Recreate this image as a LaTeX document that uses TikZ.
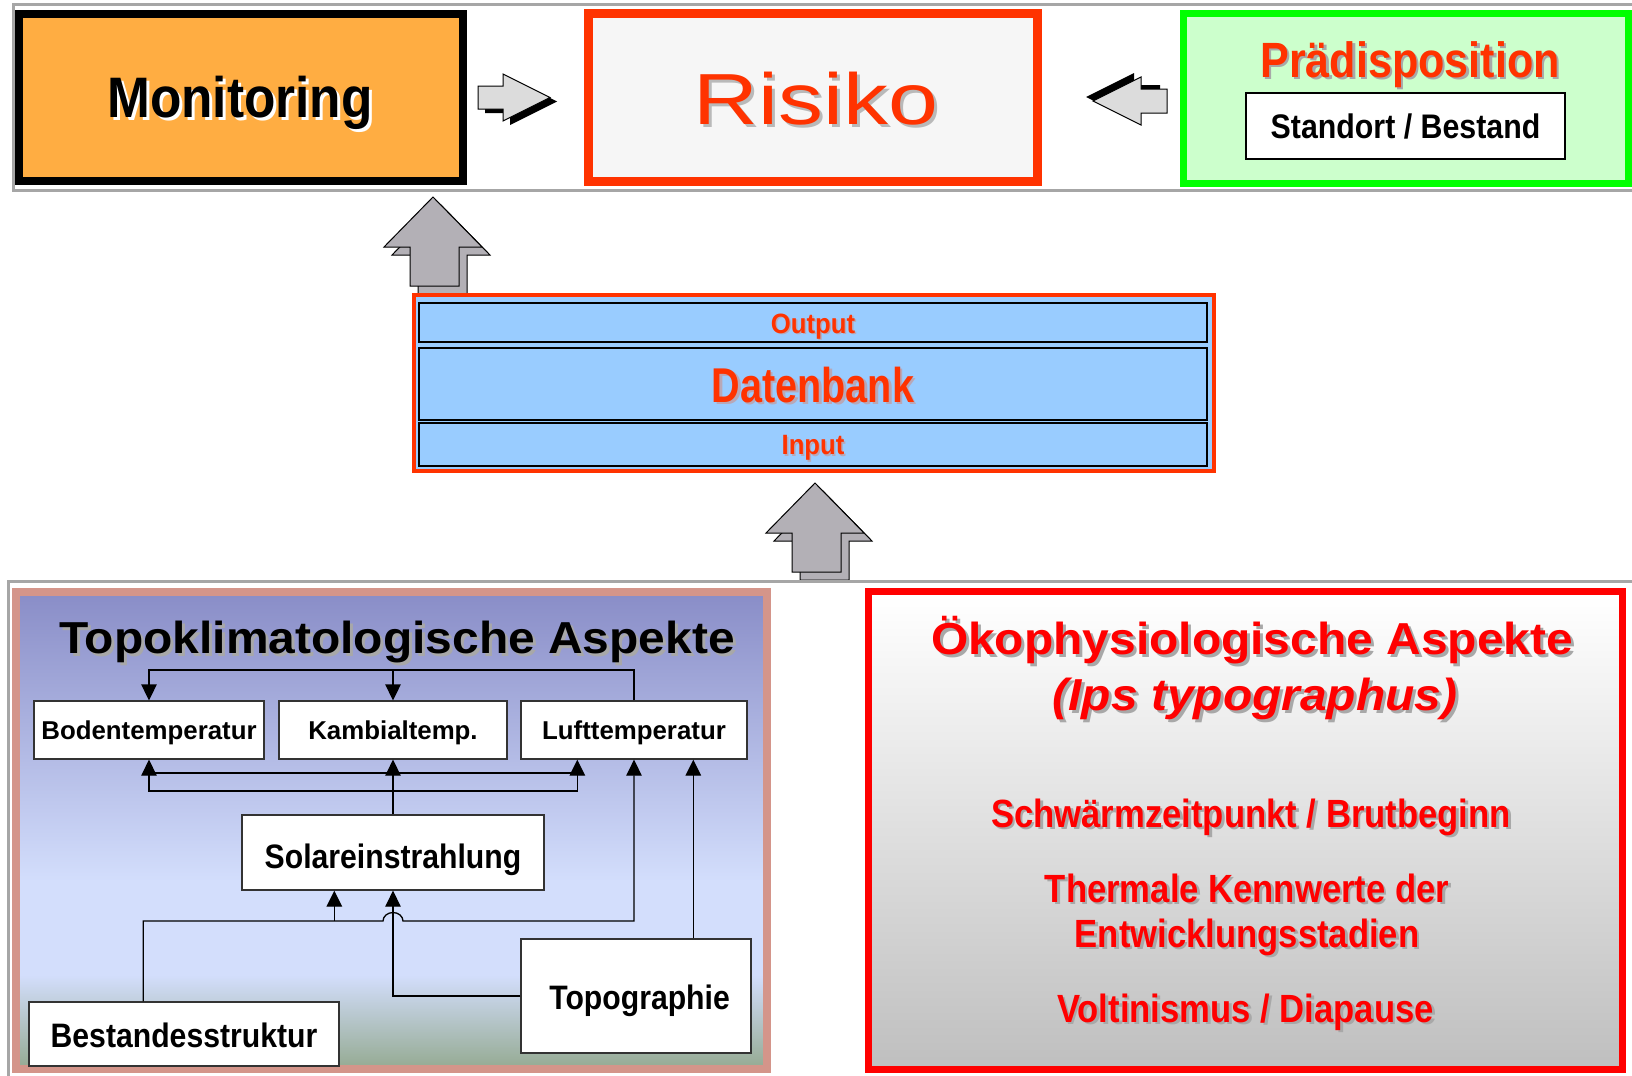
\documentclass[tikz,border=0pt]{standalone}
\usepackage{fontspec}
\setmainfont{Liberation Sans}
\usetikzlibrary{arrows.meta,calc}
\newdimen\pxu \pxu=0.02cm
\definecolor{rot}{HTML}{FF3300}
\definecolor{hotred}{HTML}{FF0000}
\definecolor{monor}{HTML}{FFAD42}
\definecolor{risfill}{HTML}{F6F6F6}
\definecolor{grn}{HTML}{00FF00}
\definecolor{grnfill}{HTML}{CCFFCC}
\definecolor{frgray}{HTML}{A6A6A6}
\definecolor{dbblue}{HTML}{99CCFF}
\definecolor{rose}{HTML}{D4958A}
\definecolor{gradtop}{HTML}{8A8EC8}
\definecolor{gradmid}{HTML}{D3DEFC}
\definecolor{gradbot}{HTML}{97AC96}
\definecolor{arrgray}{HTML}{B3B0B6}
\definecolor{harr}{HTML}{DCDCDC}
\definecolor{shgray}{HTML}{A8A8A8}
\definecolor{dbshadow}{HTML}{B8A8B8}
\definecolor{boxline}{HTML}{333333}
\newcommand\fs[1]{\fontsize{#1}{#1}\selectfont}
\newcommand\hs[2]{\scalebox{#1}[1]{#2}}
\begin{document}
\begin{tikzpicture}[x=0.02cm,y=-0.02cm,
  lbl/.style={inner sep=0pt, anchor=base},
  tbox/.style={draw=boxline, fill=white, line width=1.3\pxu, inner sep=0pt, text height=10.5pt, text depth=0pt, font=\fs{14.7pt}\bfseries},
  bigbox/.style={tbox, text height=13.8pt, font=\fs{19.3pt}\bfseries},
  conn/.style={line width=1.3\pxu, draw=black},
  arrto/.style={conn, -{Triangle[length=0.32cm, width=0.31cm]}},
  dbrow/.style={draw=black, line width=1.3\pxu, fill=dbblue, inner sep=0pt, minimum width=788\pxu},
  uparr/.style={fill=arrgray, draw=black, line width=1\pxu},
  harrow/.style={fill=harr, draw=black, line width=1\pxu},
  ttl/.style={lbl, font=\fs{25.5pt}\bfseries},
  oko/.style={lbl, font=\fs{22.4pt}\bfseries},
]
\useasboundingbox (0,0) rectangle (1632,1075);
\fill[white] (0,0) rectangle (1632,1075);

% ---------------- top band ----------------
\draw[frgray, line width=3\pxu] (13,4.5) rectangle (1650,190);
\node[draw=black, line width=8\pxu, fill=monor, minimum width=444.5\pxu, minimum height=167\pxu, inner sep=0pt] (mon) at (240.75,97.5) {};
\node[draw=rot, line width=9\pxu, fill=risfill, minimum width=449\pxu, minimum height=168\pxu, inner sep=0pt] (risk) at (813,97.5) {};
\node[draw=grn, line width=7\pxu, fill=grnfill, minimum width=445\pxu, minimum height=170\pxu, inner sep=0pt] (pra) at (1406,98.5) {};

\node[lbl, text=white, font=\fs{32.5pt}\bfseries] (monsh) at (243,120) {\hs{0.90}{Monitoring}};
\node[lbl, text=black, font=\fs{32.5pt}\bfseries] (montx) at (240,117) {\hs{0.90}{Monitoring}};

\node[lbl, text=shgray!80, font=\fs{41.2pt}] (rissh) at (819,127) {\hs{1.24}{Risiko}};
\node[lbl, text=rot, font=\fs{41.2pt}] (ristx) at (816,124) {\hs{1.24}{Risiko}};

\node[lbl, text=shgray, font=\fs{28.2pt}\bfseries] (prash) at (1412.5,79.5) {\hs{0.87}{Prädisposition}};
\node[lbl, text=rot, font=\fs{28.2pt}\bfseries] (pratx) at (1410,77) {\hs{0.87}{Prädisposition}};
\node[draw=black, fill=white, line width=1.5\pxu, minimum width=319\pxu, minimum height=66\pxu, inner sep=0pt, text height=13.9pt, text depth=0pt, font=\fs{19.4pt}\bfseries] (stand) at (1405.5,126) {\hs{0.89}{Standort / Bestand}};

% block arrows (top)
\begin{scope}[shift={(7,4)}]
  \fill[black] (478,86) -- (503,86) -- (503,74) -- (550,97.5) -- (503,121) -- (503,109) -- (478,109) -- cycle;
\end{scope}
\draw[harrow] (478,86) -- (503,86) -- (503,74) -- (550,97.5) -- (503,121) -- (503,109) -- (478,109) -- cycle;
\begin{scope}[shift={(-7,-4)}]
  \fill[black] (1167,89) -- (1141,89) -- (1141,77) -- (1093,101) -- (1141,125) -- (1141,113) -- (1167,113) -- cycle;
\end{scope}
\draw[harrow] (1167,89) -- (1141,89) -- (1141,77) -- (1093,101) -- (1141,125) -- (1141,113) -- (1167,113) -- cycle;

% up arrow 1
\begin{scope}[shift={(8,8)}]
  \draw[uparr] (433,197) -- (482,247) -- (459,247) -- (459,286) -- (410,286) -- (410,247) -- (384,247) -- cycle;
\end{scope}
\draw[uparr] (433,197) -- (482,247) -- (459,247) -- (459,286) -- (410,286) -- (410,247) -- (384,247) -- cycle;

% ---------------- Datenbank ----------------
\node[draw=rot, line width=4\pxu, fill=dbblue, minimum width=800\pxu, minimum height=176\pxu, inner sep=0pt] (db) at (814,383) {};
\node[dbrow, minimum height=39\pxu] (out) at (813,322.5) {};
\node[dbrow, minimum height=72\pxu] (dbm) at (813,384) {};
\node[dbrow, minimum height=43\pxu] (inp) at (813,444.5) {};
\node[lbl, text=dbshadow, font=\fs{15.9pt}\bfseries] (outsh) at (814.5,334.5) {\hs{0.92}{Output}};
\node[lbl, text=rot, font=\fs{15.9pt}\bfseries] (outtx) at (813,333) {\hs{0.92}{Output}};
\node[lbl, text=dbshadow, font=\fs{27.8pt}\bfseries] (dbsh) at (815.5,404) {\hs{0.81}{Datenbank}};
\node[lbl, text=rot, font=\fs{27.8pt}\bfseries] (dbtx) at (813,402) {\hs{0.81}{Datenbank}};
\node[lbl, text=dbshadow, font=\fs{15.9pt}\bfseries] (inpsh) at (814.5,456) {\hs{0.92}{Input}};
\node[lbl, text=rot, font=\fs{15.9pt}\bfseries] (inptx) at (813,454.5) {\hs{0.92}{Input}};

% up arrow 2
\begin{scope}[shift={(382,286)}]
  \begin{scope}[shift={(8,8)}]
    \draw[uparr] (433,197) -- (482,247) -- (459,247) -- (459,286) -- (410,286) -- (410,247) -- (384,247) -- cycle;
  \end{scope}
  \draw[uparr] (433,197) -- (482,247) -- (459,247) -- (459,286) -- (410,286) -- (410,247) -- (384,247) -- cycle;
\end{scope}

% ---------------- bottom band ----------------
\draw[frgray, line width=3\pxu] (8,581) rectangle (1650,1090);

% left panel
\shade[top color=gradtop, bottom color=gradmid] (20,596) rectangle (763,881);
\fill[gradmid] (20,880) rectangle (763,976);
\shade[top color=gradmid, bottom color=gradbot] (20,975) rectangle (763,1065);
\draw[rose, line width=8\pxu] (16,592) rectangle (767,1069);

\node[ttl, text=shgray] (topsh) at (400,656.5) {\hs{1.07}{Topoklimatologische Aspekte}};
\node[ttl, text=black] (toptx) at (397,653.5) {\hs{1.07}{Topoklimatologische Aspekte}};

\node[tbox, minimum width=230\pxu, minimum height=58\pxu] (boden) at (149,730) {Bodentemperatur};
\node[tbox, minimum width=228\pxu, minimum height=58\pxu] (kamb) at (393,730) {Kambialtemp.};
\node[tbox, minimum width=226\pxu, minimum height=58\pxu] (luft) at (634,730) {Lufttemperatur};
\node[bigbox, minimum width=302\pxu, minimum height=75\pxu, text height=18.4pt] (solar) at (393,852.5) {\hs{0.89}{Solareinstrahlung}};
\node[bigbox, minimum width=230\pxu, minimum height=114\pxu, text height=15.5pt] (topo) at (636,996) {\hs{0.89}{\hspace*{8\pxu}Topographie}};
\node[bigbox, minimum width=310\pxu, minimum height=64\pxu, text height=15.5pt] (bestand) at (184,1034) {\hs{0.89}{Bestandesstruktur}};

\coordinate (busA) at (0,670);
\coordinate (busB) at (0,773);
\coordinate (busC) at (0,791);
\coordinate (busD) at (0,921);
\coordinate (lin1) at ([xshift=1.14cm]luft.south west);
\coordinate (bout) at ([xshift=2.3cm]bestand.north west);
\coordinate (sin1) at ([xshift=1.86cm]solar.south west);
\coordinate (tout) at ([xshift=3.46cm]topo.north west);
\coordinate (hopc) at (solar.south |- busD);

% Lufttemperatur -> Boden, Kambial
\draw[arrto] (luft.north) -- (luft.north |- busA) -- (boden.north |- busA) -- (boden.north);
\draw[arrto] (kamb.north |- busA) -- (kamb.north);
% Solareinstrahlung -> Boden, Kambial, Luft
\draw[arrto] (solar.north) -- (kamb.south);
\draw[conn] (boden.south |- busB) -- (lin1 |- busB);
\draw[arrto] (solar.north |- busC) -- (boden.south |- busC) -- (boden.south);
\draw[arrto] (solar.north |- busC) -- (lin1 |- busC) -- (lin1);
% Bestandesstruktur -> Solar, Luft
\draw[arrto] (bout) -- (bout |- busD) -- ([xshift=-0.2cm]hopc) arc[start angle=180, end angle=0, x radius=0.2cm, y radius=0.17cm] -- (luft.south |- busD) -- (luft.south);
\draw[arrto] (sin1 |- busD) -- (sin1);
% Topographie -> Solar, Luft
\draw[arrto] (topo.west) -- (solar.south |- topo.west) -- (solar.south);
\draw[arrto] (tout) -- (tout |- luft.south);

% right panel
\shade[top color=white, bottom color=gray!50] (872,595) rectangle (1619,1066);
\draw[hotred, line width=7\pxu] (868.5,591.5) rectangle (1622.5,1069.5);

\node[ttl, text=shgray] (okosh) at (1255,657) {\hs{1.07}{Ökophysiologische Aspekte}};
\node[ttl, text=hotred] (okotx) at (1252,654) {\hs{1.07}{Ökophysiologische Aspekte}};
\node[ttl, text=shgray, font=\fs{25.5pt}\bfseries\itshape] (ipssh) at (1258,713) {\hs{1.07}{(Ips typographus)}};
\node[ttl, text=hotred, font=\fs{25.5pt}\bfseries\itshape] (ipstx) at (1255,710) {\hs{1.07}{(Ips typographus)}};

\node[oko, text=shgray] (l1sh) at (1253.5,829.5) {\hs{0.88}{Schwärmzeitpunkt / Brutbeginn}};
\node[oko, text=hotred] (l1tx) at (1251,827) {\hs{0.88}{Schwärmzeitpunkt / Brutbeginn}};
\node[oko, text=shgray] (l2sh) at (1249.5,904.5) {\hs{0.88}{Thermale Kennwerte der}};
\node[oko, text=hotred] (l2tx) at (1247,902) {\hs{0.88}{Thermale Kennwerte der}};
\node[oko, text=shgray] (l3sh) at (1249.5,949.5) {\hs{0.88}{Entwicklungsstadien}};
\node[oko, text=hotred] (l3tx) at (1247,947) {\hs{0.88}{Entwicklungsstadien}};
\node[oko, text=shgray] (l4sh) at (1248,1024.5) {\hs{0.88}{Voltinismus / Diapause}};
\node[oko, text=hotred] (l4tx) at (1245.5,1022) {\hs{0.88}{Voltinismus / Diapause}};
\end{tikzpicture}
\end{document}
